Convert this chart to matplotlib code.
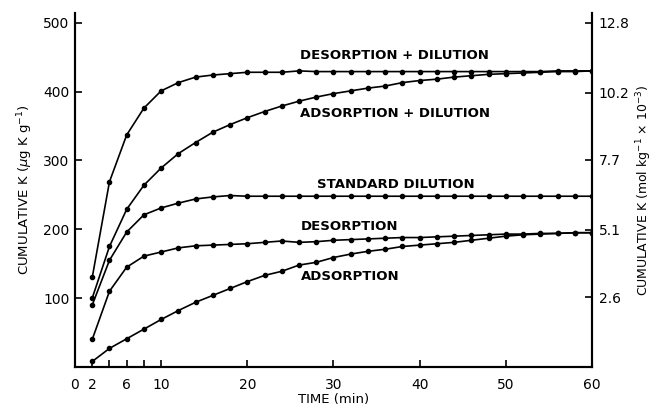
import numpy as np
import matplotlib.pyplot as plt

# time points (min), sampled every 2 min
time_min = list(range(2, 62, 2))

# cumulative K (ug K g-1)
des_dil = [130, 269, 337, 376, 401, 413, 421, 424, 426, 428, 428,
           428, 430, 429, 429, 429, 429, 429, 429, 429, 429,
           429, 429, 429, 429, 429, 429, 430, 430, 430]
ads_dil = [100, 175, 229, 264, 289, 310, 326, 341, 352, 362, 371,
           379, 386, 392, 397, 401, 405, 408, 413, 416, 418,
           421, 423, 425, 426, 427, 428, 429, 429, 430]
std_dil = [90, 155, 196, 221, 231, 238, 244, 247, 249, 248, 248,
           248, 248, 248, 248, 248, 248, 248, 248, 248, 248,
           248, 248, 248, 248, 248, 248, 248, 248, 248]
desorp = [40, 110, 145, 161, 167, 173, 176, 177, 178, 179, 181,
          183, 181, 182, 184, 185, 186, 187, 188, 188, 189,
          190, 191, 192, 193, 193, 194, 194, 195, 195]
adsorp = [8, 27, 41, 55, 69, 82, 94, 104, 114, 124, 133,
          139, 148, 152, 159, 164, 168, 171, 175, 177, 179,
          181, 184, 187, 190, 192, 193, 194, 195, 195]

curve_labels = ['DESORPTION + DILUTION', 'ADSORPTION + DILUTION',
                'STANDARD DILUTION', 'DESORPTION', 'ADSORPTION']
# label anchor positions (time, ug/g)
label_pos = [(37.1, 453, 'center'), (37.1, 368, 'center'),
             (37.2, 265, 'center'), (26.2, 204, 'left'), (26.2, 132, 'left')]

x_ticks = [0, 2, 6, 10, 20, 30, 40, 50, 60]
x_minor = [4, 8]
y_ticks = [100, 200, 300, 400, 500]
mol_ticks = [2.6, 5.1, 7.7, 10.2, 12.8]
ug_to_mol = 12.8 / 500

fig = plt.figure(figsize=(6.59, 4.08), dpi=100)
ax = fig.add_axes([0.1138, 0.1005, 0.7845, 0.8675])

for ys in [des_dil, ads_dil, std_dil, desorp, adsorp]:
    ax.plot(time_min, ys, color='black', lw=1.2, marker='o', ms=3)

for txt, (xp, yp, ha) in zip(curve_labels, label_pos):
    ax.text(xp, yp, txt, ha=ha, va='center', fontsize=9.5, fontweight='semibold')

ax.set_xlim(0, 60)
ax.set_ylim(0, 514)
ax.set_xticks(x_ticks)
ax.set_xticks(x_minor, minor=True)
ax.set_yticks(y_ticks)
ax.tick_params(axis='both', which='both', direction='in', width=1.2, labelsize=10)
ax.tick_params(axis='x', which='major', length=5, pad=8)
ax.tick_params(axis='x', which='minor', length=5)
ax.tick_params(axis='y', length=5, pad=4)
ax.spines['top'].set_visible(False)
for s in ['left', 'bottom', 'right']:
    ax.spines[s].set_linewidth(1.5)

ax.set_xlabel('TIME (min)', fontsize=9.5, labelpad=1)
ax.set_ylabel('CUMULATIVE K ($\\mu$g K g$^{-1}$)', fontsize=9.5, labelpad=6)

ax2 = ax.twinx()
ax2.set_ylim(0, 514 * ug_to_mol)
ax2.set_yticks(mol_ticks)
ax2.set_yticklabels([f'{v:.1f}' for v in mol_ticks])
ax2.tick_params(axis='y', direction='in', length=5, width=1.2, labelsize=10, pad=5)
ax2.spines['top'].set_visible(False)
for s in ['left', 'bottom', 'right']:
    ax2.spines[s].set_linewidth(1.5)
ax2.set_ylabel('CUMULATIVE K (mol kg$^{-1}$ $\\times$ 10$^{-3}$)', fontsize=9, labelpad=3)

fig.savefig('out.png', dpi=100)
